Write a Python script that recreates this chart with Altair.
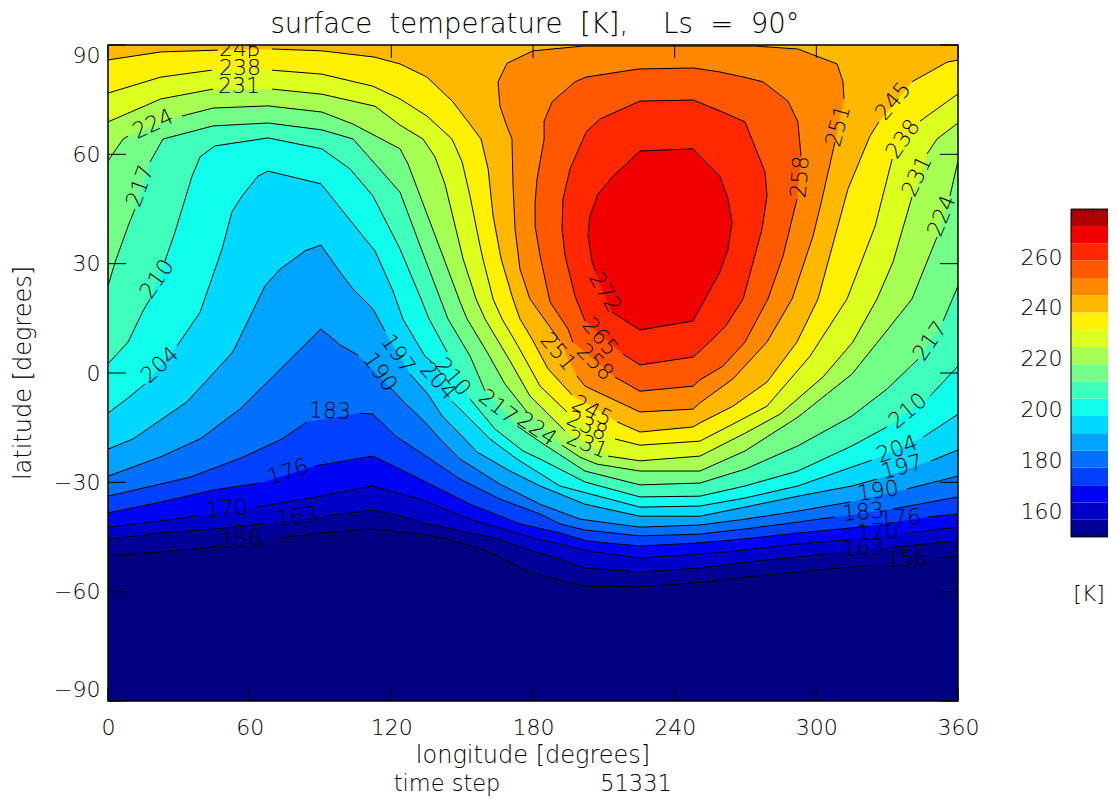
import altair as alt
import pandas as pd

FONT = "DejaVu Sans"
WEIGHT = 200
LAB = 22

C156 = [(0,-50.2),(22.4,-49.1),(48.7,-47.5),None,(71.6,-45.3),(90.2,-43.9),(112.2,-42.8),(135.1,-44.5),(143.2,-45.5),(160.5,-48.8),(179.2,-54.9),(202,-58.5),(225.3,-58.7),(250.7,-57.4),(269.8,-56),(292.2,-54.6),(315.1,-53.2),(324.9,-52.7),None,(350.3,-50.8),(360,-50.2)]
C163 = [(0,-45.6),(22.4,-43.9),(44.9,-42.8),(66.5,-41.4),None,(91.9,-39.2),(112.2,-37.6),(123.7,-39.2),(135.1,-41.4),(165.2,-45.5),(179.2,-48.8),(191.4,-51),(202,-53.5),(225.3,-54.6),(250.7,-53.5),(269.8,-51.9),(292.2,-50.5),(307.1,-49.4),None,(332.1,-47.8),(360,-46.1)]
C170 = [(0,-42.3),(22.4,-40.6),(38.1,-39.2),None,(63.1,-36.8),(90.2,-33.8),(112.2,-31),(123.7,-33.2),(132.1,-34.6),(153.3,-40.1),(181.3,-45.5),(191.4,-46.9),(202.9,-48.8),(225.3,-50.8),(250.7,-49.7),(269.8,-48.6),(292.2,-46.9),(313.4,-45.8),None,(338.8,-43.9),(360,-42.3)]
C176 = [(0,-38.4),(22.4,-35.4),(44.9,-32.1),(64.4,-30.2),None,(87.7,-25.5),(112.2,-22.8),(123.7,-26.4),(132.1,-29.1),(153.3,-36),(174.5,-41.4),(191.4,-43.9),(202.9,-46.1),(225.3,-47.5),(250.7,-46.6),(269.8,-45.5),(292.2,-43.9),(315.1,-42.5),(321.9,-42),None,(347.3,-39.5),(360,-38.7)]
C183 = [(0,-33.8),(34.7,-28.6),(57.2,-23.1),(73.7,-18.1),(84.3,-13.4),None,(106.7,-11),(112.2,-11.3),(122.4,-17.6),(132.1,-21.7),(149.1,-29.1),(166,-34.6),(183,-38.7),(191.4,-41.4),(202,-43.1),(225.3,-44.7),(250.7,-44.2),(269.8,-42.8),(292.2,-40.9),(307.9,-39.5),None,(332.5,-37.3),(360,-34)]
C190 = [(0,-28.3),(22,-23.1),(39,-18.1),(55.9,-9.9),(90.2,12.1),(98.3,7.7),(105.9,4.9),None,(119.4,-3.9),(124.9,-7.7),(134.3,-13.5),(140.6,-18.1),(149.1,-23.6),(166,-30.5),(183,-36),(199.9,-40.1),(225.3,-42.3),(250.7,-41.7),(269.8,-40.1),(292.2,-37.9),(314.3,-35.4),None,(338.4,-31.8),(360,-28.3)]
C197 = [(0,-20.9),(10.6,-18.1),(33.5,-7.9),(52.9,5.8),(66.5,23.9),(72.9,28.5),(83.4,33.5),(90.2,35.1),(97.4,28.5),(103.8,23),(112.2,17.6),(117.3,11.5),None,(127.9,-0.3),(135.5,-5.8),(141.5,-11.8),(147.8,-15.9),(156.3,-21.7),(170.3,-26.9),(183,-31),(202,-36),(225.3,-39.3),(250.7,-39.3),(269.8,-36.8),(292.2,-33.8),(315.1,-31),(325.7,-29.1),None,(348.6,-24.1),(360,-21.1)]
C204 = [(0,-11),(8,-7.1),(15.7,-3),None,(29.2,7.4),(39,16.7),(48.3,34),(52.5,44.2),(56.8,48.6),(63.5,54),(67.8,55.4),(90.2,51.9),(108.9,36.8),(113.1,33.5),(120.7,22.5),(124.9,14.8),(134.3,4.6),(137.2,3),None,(145.7,-7.7),(153.3,-12.6),(161.8,-18.1),(173.2,-23.6),(191.4,-31),(225.3,-36.8),(250.7,-36.5),(269.8,-34.3),(292.2,-31),(315.1,-25.8),(323.6,-23.9),None,(345.2,-17.6),(360,-11.3)]
C210 = [(0,2.5),(8.5,8.5),(14.8,17),(17.8,20.3),None,(24.1,30.7),(28.4,38.7),(35.6,54),(39,59.3),(45.3,62.3),(67.8,64.5),(90.6,61.5),(102.5,56),(112.2,48.6),(123.7,34),(132.1,21.1),(136,14.8),(143.6,5.8),None,(153.3,-7.1),(163.9,-15.4),(175.8,-21.4),(183,-23.6),(202,-29.9),(225.3,-34),(250.7,-33.8),(269.8,-31),(292.2,-26.9),(315.1,-20),(329.9,-14.8),None,(348.2,-6.3),(360,1.9)]
C217 = [(0,23.9),(3,30.4),(8.5,40.3),(11.4,45),None,(17.8,57.9),(23.3,64.2),(44.5,67.8),(67.8,68.6),(90.6,66.7),(103.8,64.2),(123.7,49.6),(134.3,31.3),(144,14.8),(153.3,4.7),(159.7,-4.9),None,(173.2,-14.5),(183,-18.9),(202,-26.9),(225.3,-30.7),(250.7,-30.2),(269.8,-26.4),(292.2,-20),(315.1,-11.8),(329.9,-4.4),(343.1,3.8),None,(353.7,14.3),(360,23.9)]
C224 = [(0,58.2),(6.4,64.2),(8.5,65),None,(31.3,70.5),(44.5,72.7),(67.8,73.3),(90.6,71.6),(103.8,68.3),(123.7,61.5),(127.1,57.3),(142.3,31.3),(149.1,19.5),(152.1,14.8),(160.5,5.8),(168.1,-3),(177.5,-10.7),None,(192.3,-19.8),(199.9,-23.1),(207.1,-25),(225.3,-26.9),(250.7,-26.9),(269.8,-21.4),(292.2,-12.1),(315.1,-0.3),(327,9.3),(340.5,20.3),(351.1,37.3),None,(356.6,48.6),(360,58.2)]
C231 = [(0,68.9),(22.4,75.2),(44.5,77.9),None,(69.5,77.9),(90.6,76.5),(113.1,73.2),(123.7,68),(133.4,64.2),(138.5,59.3),(142.7,51.9),(149.1,34.8),(150.4,31.3),(155.9,20.3),(159.7,14.8),(169,4.7),(178.7,-6.3),(193.6,-15.9),None,(211.8,-22.8),(225.3,-24.1),(250.7,-22.8),(269,-16.8),(284.6,-11.3),(302.8,-1.1),(315.5,8.5),(325.7,20.3),(332.5,30.5),(340.5,48.3),None,(346.9,60.1),(351.1,64.2),(360,68.6)]
C238 = [(0,76.8),(22.4,81.2),(44,83.1),None,(69.5,83.1),(90.6,82),(112.2,78.7),(123.7,75.2),(135.1,70.5),(145.7,64.2),(150,57.9),(153.3,48.6),(157.6,34.8),(158.8,31.3),(163.1,20.3),(166.9,14.8),(173.2,7.9),(183,-3.6),(194.4,-10.7),None,(214.7,-18.1),(225.3,-19.8),(250.7,-18.7),(264.7,-14),(279.1,-9.1),(297.3,4.6),(313,20.3),(324.9,40.3),(332.1,58.7),None,(343.9,69.1),(360,76.6)]
C245 = [(0,85.9),(22.4,88.1),(46.6,88.6),None,(69.5,88.9),(90.6,88.4),(112.7,86.7),(123.7,84.8),(135.1,81.2),(146.1,74.4),(158,64.2),(161,56),(163.1,43.1),(166.5,31.3),(171.5,20.3),(174.5,14.8),(179.6,9.3),(186.4,1.1),(196.5,-6),None,(215.6,-13.4),(225.3,-16.2),(247.8,-14.8),(250.7,-13.7),(264.7,-9.1),(279.1,-2.5),(291.8,8.5),(300.7,20.3),(313.4,50.5),(322.7,65),(326.5,68.9),None,(340.5,79.9),(355.4,85.3),(360,85.9)]
C251 = [(201.2,89.7),(180,88.4),(169,85),(165.2,79.9),(166,73.3),(168.6,68.3),(171.1,64.2),(171.5,52.4),(172.4,39.5),(174.5,28.5),(178.7,20.3),(181.7,17.6),(191.4,8.8),None,(198.6,-0.8),(202,-3.6),(225.3,-10.7),(247.8,-9.9),(250.7,-8.2),(264.7,-1.6),(279.1,8.5),(289.7,20.3),(298.6,37.6),(302.4,47.7),(307.9,63.4),None,(311.7,75.2),(311.3,79.9),(308.8,84.8),(292.2,88.9),(274,89.7),(201.2,89.7)]
C258 = [(224.5,83.4),(202.5,81.2),(197.8,79.9),(188.1,74.4),(184.7,69.1),(184.7,64.2),(181.7,53.2),(180.9,46.9),(180.9,40.3),(183,32.1),(187.2,19.5),(194.8,12.1),(196.9,8.5),None,(214.7,-1.1),(225.3,-5),(247.8,-3.6),(250.7,-1.9),(260.5,1.9),(269.8,8.5),(279.5,20.3),(285.9,32.1),(291.8,47.7),None,(293.5,59.5),(292.2,68.9),(288,74.6),(277.4,79.9),(269.8,81.1),(259.2,82.6),(247.8,83.7),(224.5,83.4)]
C265 = [(225.3,74.6),(208.4,69.7),(202.5,66.1),(195.7,56),(192.7,47.7),(192.3,39.5),(193.6,32.1),(197.8,21.1),(202,14.3),None,(218.1,5.2),(225.3,2.2),(247.8,4.4),(250.7,6),(261.3,12.6),(269,20.3),(277,39.5),(279.1,48.6),(278.3,55.1),(269.8,68.9),(259.2,71.9),(247.8,74.9),(225.3,74.6)]
C272 = [(225.3,60.9),(213.9,54),(207.5,49.1),(204.1,43.1),(203.3,37.6),(205,30.5),(206.3,28),None,(213.5,16.7),(225.3,11.8),(247.8,14.3),(259.2,27.7),(262.6,34),(264.3,41.4),(262.6,47.7),(259.2,54),(247.8,61.5),(225.3,60.9)]

OPEN_CONTOURS = [C156, C163, C170, C176, C183, C190, C197, C204, C210, C217, C224, C231, C238, C245]
CLOSED_CONTOURS = [C251, C258, C265, C272]
FILLS = ["#000096","#0000c8","#0004f4","#0040ff","#0070ff","#00a4ff","#00d8ff","#10ffec","#40ffbc",
         "#74ff88","#a8ff54","#dcff20","#fff000","#ffb800","#ff8800","#ff5800","#ff2800","#f00000"]
BG = "#000080"

LABELS = [("245",55.9,88.9,0),("238",55.9,83.7,0),("231",55.5,78.7,0),("224",19.1,68.3,335),("217",13.6,51.3,290),
          ("210",20.8,25.8,305),("204",22,2.2,318),("183",94,-10.4,2),("176",76.2,-27.2,342),("170",50.4,-37.3,355),
          ("163",80,-39.5,353),("156",56.3,-45.8,355),("197",122.8,5.2,55),("190",115.2,0.3,55),("204",139.8,-2.2,48),
          ("210",146.1,-1.1,50),("217",165.2,-9.3,38),("224",181.7,-15.4,35),("231",202.9,-19.5,22),("238",202.9,-14.5,25),
          ("245",205,-10.4,28),("251",190.6,5.8,50),("258",206.3,3,45),("265",208.4,9.9,50),("272",210.5,22.2,60),
          ("258",293.1,53.8,275),("251",309.2,67.8,285),("245",332.5,74.6,310),("238",336.7,64.2,305),("231",342.6,54,295),
          ("224",353.2,43.1,292),("217",348.2,8.8,305),("210",338.8,-10.4,320),("204",334.2,-20.9,340),("197",336.3,-25.8,345),
          ("190",326.1,-32.4,352),("183",319.8,-38.2,355),("176",335.5,-39.8,357),("170",326.1,-43.6,357),("163",319.8,-48,357),
          ("156",338.4,-51,357)]

LON_TICKS = [0, 60, 120, 180, 240, 300, 360]
LAT_TICKS = [-90, -60, -30, 0, 30, 60, 90]

BAR_EDGES = [149.8,156.6,163.4,170.2,177,183.8,190.6,197.4,204.2,211,217.8,224.6,231.4,238.2,245,251.8,258.6,265.4,272.2,278.9]
BAR_COLORS = ["#000096","#0000c8","#0004f4","#0040ff","#0070ff","#00a4ff","#00d8ff","#10ffec","#40ffbc","#74ff88",
              "#a8ff54","#dcff20","#fff000","#ffb800","#ff8800","#ff5800","#ff2800","#f00000","#b00000"]
BAR_MINOR = [0.12, 0.24, 0.36, 0.48, 0.72, 0.84, 0.96]
BAR_MAJOR = [0.02, 0.6]
BAR_LABELS = [160, 180, 200, 220, 240, 260]

W, H = 850, 656
BW = 37
X = alt.X("lon:Q", scale=alt.Scale(domain=[0, 360], nice=False, zero=False), title=None,
          axis=alt.Axis(values=LON_TICKS, ticks=False, domain=False, grid=False, labelFont=FONT, labelFontWeight=WEIGHT,
                        labelFontSize=LAB, labelPadding=16, labelColor="#000", labelFlush=False, format="d"))
Y = alt.Y("lat:Q", scale=alt.Scale(domain=[-90, 90], nice=False, zero=False), title=None,
          axis=alt.Axis(values=LAT_TICKS, ticks=False, domain=False, grid=False, labelFont=FONT, labelFontWeight=WEIGHT,
                        labelFontSize=LAB, labelPadding=8, labelColor="#000", labelFlush=True, format="d"))


def frame(points):
    return pd.DataFrame([{"i": k, "lon": None if p is None else p[0], "lat": None if p is None else p[1]}
                         for k, p in enumerate(points)])


layers = []
extent = pd.DataFrame({"lon": [0], "lon2": [360], "lat": [-90], "lat2": [90]})
layers.append(alt.Chart(extent).mark_rect(color=BG).encode(x=X, x2="lon2:Q", y=Y, y2="lat2:Q"))
fill_index = 0
for c in OPEN_CONTOURS + CLOSED_CONTOURS:
    pts = [p for p in c if p is not None]
    if c in OPEN_CONTOURS:
        pts = pts + [(360, 90), (0, 90), pts[0]]
    layers.append(alt.Chart(frame(pts)).mark_line(fill=FILLS[fill_index], stroke=FILLS[fill_index], strokeWidth=0.3, clip=True, interpolate="linear").encode(
        x=alt.X("lon:Q"), y=alt.Y("lat:Q"), order=alt.Order("i:Q")))
    fill_index += 1
for c in OPEN_CONTOURS + CLOSED_CONTOURS:
    layers.append(alt.Chart(frame(c)).mark_line(color="#000", strokeWidth=1, clip=True).encode(
        x=alt.X("lon:Q"), y=alt.Y("lat:Q"), order=alt.Order("i:Q")))

lab_df = pd.DataFrame(LABELS, columns=["t", "lon", "lat", "a"])
layers.append(alt.Chart(lab_df).mark_text(font=FONT, fontWeight=WEIGHT, fontSize=LAB, color="#000", clip=True, baseline="middle").encode(
    x=alt.X("lon:Q"), y=alt.Y("lat:Q"), text="t:N", angle=alt.Angle("a:Q", scale=None)))

xt = pd.DataFrame({"lon": LON_TICKS})
yt = pd.DataFrame({"lat": LAT_TICKS})
layers.append(alt.Chart(xt).mark_rule(color="#000", strokeWidth=1).encode(x=alt.X("lon:Q"), y=alt.value(H), y2=alt.value(H - 13)))
layers.append(alt.Chart(xt).mark_rule(color="#000", strokeWidth=1).encode(x=alt.X("lon:Q"), y=alt.value(0), y2=alt.value(13)))
layers.append(alt.Chart(yt).mark_rule(color="#000", strokeWidth=1).encode(y=alt.Y("lat:Q"), x=alt.value(0), x2=alt.value(18)))
layers.append(alt.Chart(yt).mark_rule(color="#000", strokeWidth=1).encode(y=alt.Y("lat:Q"), x=alt.value(W), x2=alt.value(W - 18)))
layers.append(alt.Chart(extent).mark_rect(fillOpacity=0, stroke="#000", strokeWidth=1.5).encode(
    x=alt.X("lon:Q"), x2="lon2:Q", y=alt.Y("lat:Q"), y2="lat2:Q"))


def note(text, x, y, size, angle=0):
    return alt.Chart(pd.DataFrame({"t": [text]})).mark_text(font=FONT, fontWeight=WEIGHT, fontSize=size, color="#000",
                                                            angle=angle, baseline="middle").encode(
        x=alt.value(x), y=alt.value(y), text="t:N")


layers.append(note("surface\u00a0 temperature\u00a0 [K],\u00a0\u00a0\u00a0 Ls\u00a0 =\u00a0 90°", 427, -20, 27.5))
layers.append(note("latitude [degrees]", -84, 328, 24, 270))
layers.append(note("longitude [degrees]", 425, 711, 24))
layers.append(note("time step", 339, 739, 22.5))
layers.append(note("51331", 528, 739, 22.5))

main = alt.layer(*layers).properties(width=W, height=H)

bar_df = pd.DataFrame({"lo": BAR_EDGES[:-1], "hi": BAR_EDGES[1:], "c": BAR_COLORS, "x0": 0, "x1": 1})
BY = alt.Y("lo:Q", scale=alt.Scale(domain=[85.2, 343.5], nice=False, zero=False), title=None,
           axis=alt.Axis(values=BAR_LABELS, ticks=False, domain=False, grid=False, labelFont=FONT, labelFontWeight=WEIGHT,
                         labelFontSize=LAB, labelPadding=9, labelColor="#000", format="d"))
BX = alt.X("x0:Q", scale=alt.Scale(domain=[0, 1], nice=False, zero=False), axis=None)
bar = alt.Chart(bar_df).mark_rect().encode(x=BX, x2="x1:Q", y=BY, y2="hi:Q", color=alt.Color("c:N", scale=None))
edge_df = pd.DataFrame({"lo": [BAR_EDGES[0], BAR_EDGES[-1]]})
bar_edges_h = alt.Chart(edge_df).mark_rule(color="#000", strokeWidth=1).encode(y=alt.Y("lo:Q"), x=alt.value(0), x2=alt.value(BW))
bar_edge_v = alt.Chart(pd.DataFrame({"lo": [BAR_EDGES[0]], "hi": [BAR_EDGES[-1]]})).mark_rule(color="#000", strokeWidth=1).encode(
    y=alt.Y("lo:Q"), y2="hi:Q", x=alt.value(0))


def bar_ticks(values, y0, y1):
    return alt.Chart(pd.DataFrame({"x0": values})).mark_rule(color="#000", strokeWidth=0.8).encode(
        x=alt.X("x0:Q"), y=alt.value(y0), y2=alt.value(y1))


unit = note("[K]", 18, 549, 22)
side = alt.layer(bar, bar_ticks(BAR_MINOR, 492, 489), bar_ticks(BAR_MAJOR, 492, 486),
                 bar_ticks(BAR_MINOR, 164, 167), bar_ticks(BAR_MAJOR, 164, 170), bar_edges_h, bar_edge_v, unit).properties(
    width=BW, height=H, view=alt.ViewConfig(stroke=None))

chart = alt.hconcat(main, side, spacing=41).properties(
    padding={"left": 4, "top": 3, "right": 0, "bottom": 0},
    background="white",
).configure_view(stroke=None)

chart.save("out.html", embed_options={"renderer": "svg", "actions": False})
